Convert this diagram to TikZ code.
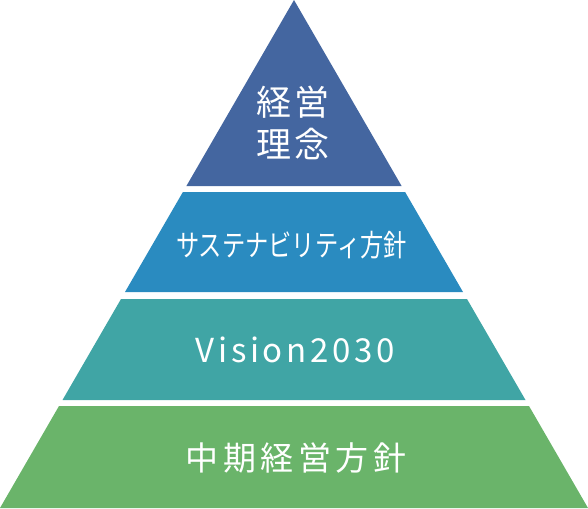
\documentclass[tikz,border=0pt]{standalone}
\usepackage{fontspec}
\newfontfamily\jp{Noto Sans CJK JP}
\newfontfamily\jpA[LetterSpace=11]{Noto Sans CJK JP}
\newfontfamily\jpB[LetterSpace=14]{Noto Sans CJK JP}
\newfontfamily\jpC[LetterSpace=11]{Noto Sans CJK JP}
\definecolor{tier1}{RGB}{68,102,160}
\definecolor{tier2}{RGB}{42,139,192}
\definecolor{tier3}{RGB}{64,165,165}
\definecolor{tier4}{RGB}{106,180,106}
\begin{document}
\begin{tikzpicture}[x=1pt,y=-1pt,
  tier/.style={draw=none},
  label/.style={text=white,inner sep=0pt,anchor=center}]
\useasboundingbox (0,0) rectangle (588,508);
\fill[tier1] (294,0) -- (401.6,186) -- (186.4,186) -- cycle;
\fill[tier2] (182.9,192) -- (405.1,192) -- (463,292) -- (125,292) -- cycle;
\fill[tier3] (121,299) -- (467,299) -- (525.5,400) -- (62.5,400) -- cycle;
\fill[tier4] (59,406) -- (529,406) -- (588,508) -- (0,508) -- cycle;
\node[label,align=center,font=\jpA\fontsize{35}{42}\selectfont] (t1) at (293,123) {経営\\理念};
\node[label,font=\jp\fontsize{30}{32}\selectfont,xscale=0.775] (t2) at (291.5,245) {サステナビリティ方針};
\node[label,font=\jpC\fontsize{33}{38}\selectfont] (t3) at (295,350) {Vision2030};
\node[label,font=\jpB\fontsize{33}{36}\selectfont] (t4) at (296,458) {中期経営方針};
\end{tikzpicture}
\end{document}
